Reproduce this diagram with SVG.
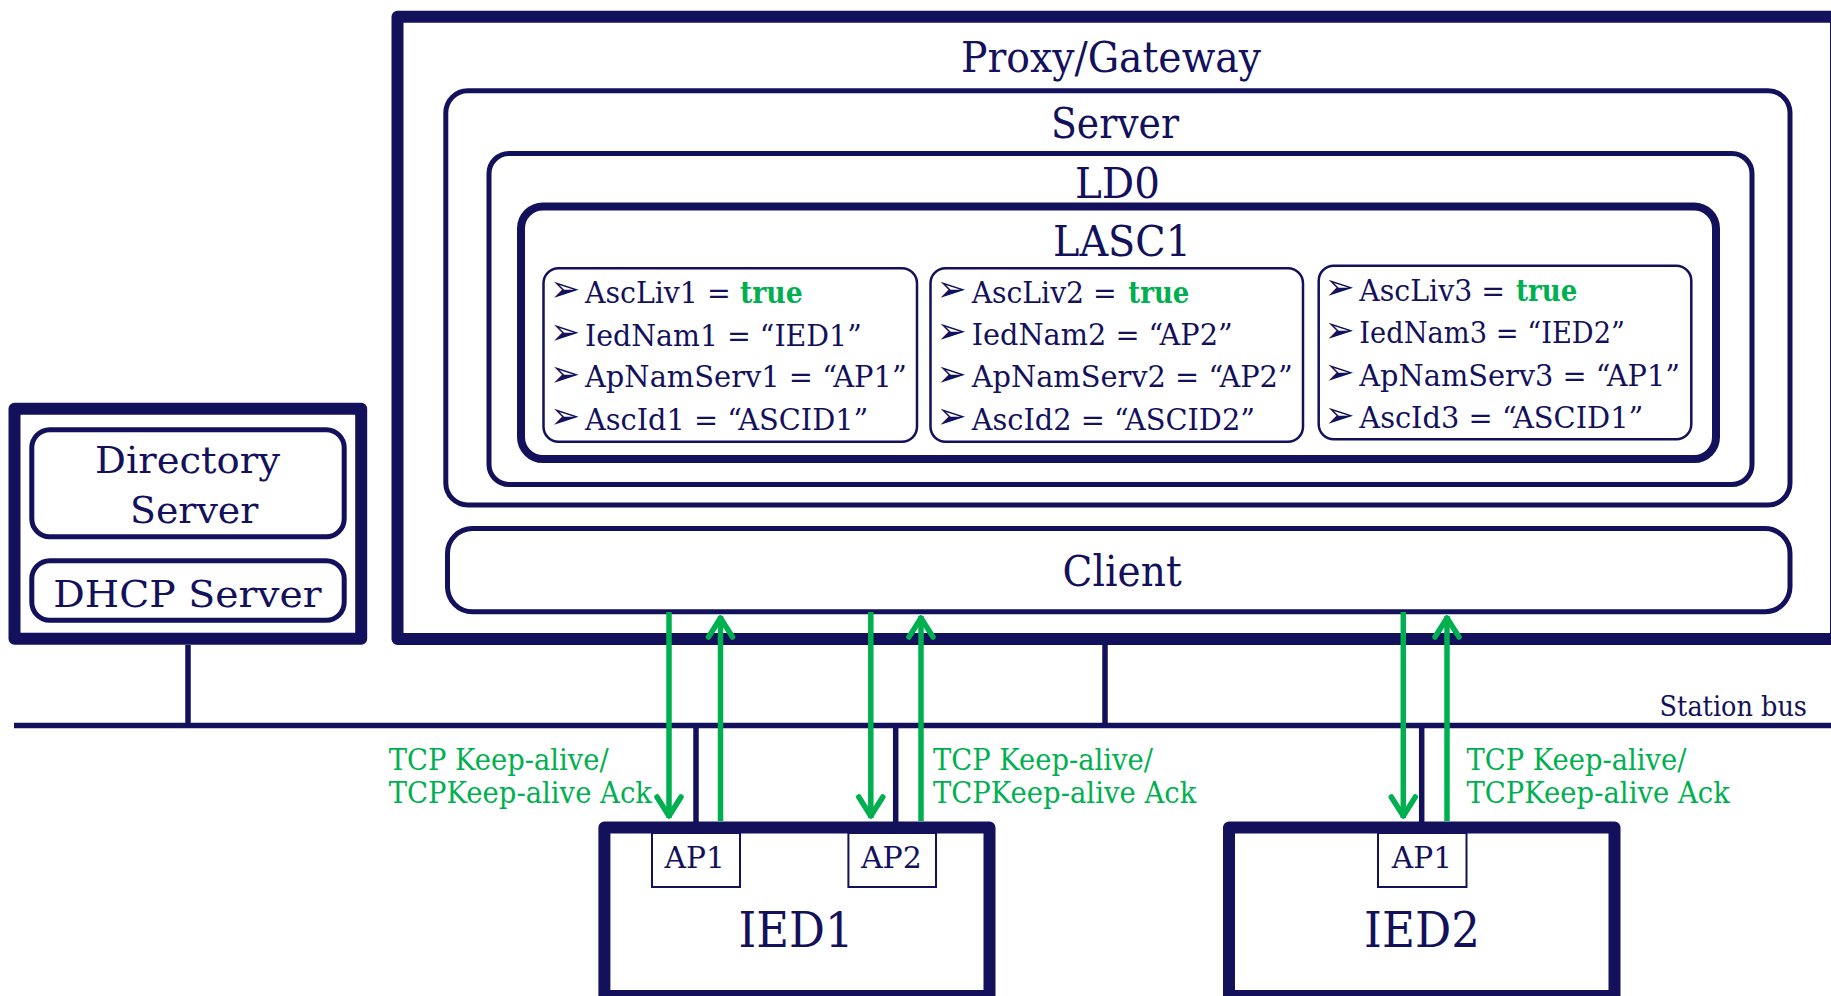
<svg xmlns="http://www.w3.org/2000/svg" width="1831" height="996" viewBox="0 0 1831 996">
<defs>
<style>
.n{fill:none;stroke:#13115B;stroke-linejoin:round}
.t{font-family:"DejaVu Serif","Liberation Serif",serif;fill:#13115B}
.gl{font-family:"DejaVu Serif","Liberation Serif",serif;fill:#00B050;font-size:29px}
.it{font-family:"DejaVu Serif","Liberation Serif",serif;fill:#13115B;font-size:29px}
.tr{font-family:"DejaVu Serif","Liberation Serif",serif;fill:#00B050;font-size:29px;font-weight:bold}
.b{font-family:"DejaVu Sans",sans-serif;fill:#13115B;font-size:36px}
.h{font-size:43px}
.cn{stroke:#13115B;stroke-width:5.5;fill:none}
.ga{stroke:#00B050;stroke-width:5.5;fill:none;marker-end:url(#ah)}
</style>
<marker id="ah" markerUnits="userSpaceOnUse" markerWidth="40" markerHeight="40" viewBox="-30 -20 40 40" refX="2" refY="0" orient="auto" overflow="visible">
<path d="M-19,-12 L0,0 L-19,12" fill="none" stroke="#00B050" stroke-width="5.5" stroke-linecap="round" stroke-linejoin="round"/>
</marker>
</defs>
<rect width="1831" height="996" fill="#fff"/>

<g id="proxy">
<rect class="n" x="397.5" y="16.7" width="1438.5" height="622.3" stroke-width="12"/>
<text class="t h" x="961" y="71.5" textLength="300" lengthAdjust="spacingAndGlyphs">Proxy/Gateway</text>
</g>
<g id="server">
<rect class="n" x="445.8" y="90.8" width="1344.2" height="414.2" rx="22" stroke-width="5"/>
<text class="t h" x="1051" y="138" textLength="128" lengthAdjust="spacingAndGlyphs">Server</text>
</g>
<g id="ld0">
<rect class="n" x="489" y="153.5" width="1263" height="331" rx="20" stroke-width="5"/>
<text class="t h" x="1075" y="198" textLength="85" lengthAdjust="spacingAndGlyphs">LD0</text>
</g>
<g id="lasc1">
<rect class="n" x="521" y="206.5" width="1195" height="252.5" rx="22" stroke-width="8"/>
<text class="t h" x="1053" y="255.5" textLength="138" lengthAdjust="spacingAndGlyphs">LASC1</text>
</g>
<g id="asc1">
<rect class="n" x="543.5" y="268.3" width="373.5" height="173.4" rx="15" stroke-width="2.5"/>
<text class="b" x="550" y="301">➢</text>
<text class="b" x="550" y="344">➢</text>
<text class="b" x="550" y="386">➢</text>
<text class="b" x="550" y="428">➢</text>
<text class="it" x="585" y="302.7" textLength="145.7" lengthAdjust="spacingAndGlyphs">AscLiv1 =</text>
<text class="tr" x="740" y="302.7" textLength="62.7" lengthAdjust="spacingAndGlyphs">true</text>
<text class="it" x="585" y="346" textLength="276.7" lengthAdjust="spacingAndGlyphs">IedNam1 = “IED1”</text>
<text class="it" x="585" y="387.3" textLength="321.7" lengthAdjust="spacingAndGlyphs">ApNamServ1 = “AP1”</text>
<text class="it" x="585" y="430" textLength="283.3" lengthAdjust="spacingAndGlyphs">AscId1 = “ASCID1”</text>
</g>
<g id="asc2">
<rect class="n" x="930.5" y="268.3" width="372.5" height="173.4" rx="15" stroke-width="2.5"/>
<text class="b" x="936.5" y="301">➢</text>
<text class="b" x="936.5" y="343">➢</text>
<text class="b" x="936.5" y="386">➢</text>
<text class="b" x="936.5" y="428">➢</text>
<text class="it" x="971.7" y="302.7" textLength="145" lengthAdjust="spacingAndGlyphs">AscLiv2 =</text>
<text class="tr" x="1128.3" y="302.7" textLength="61" lengthAdjust="spacingAndGlyphs">true</text>
<text class="it" x="971.7" y="345" textLength="261" lengthAdjust="spacingAndGlyphs">IedNam2 = “AP2”</text>
<text class="it" x="971.7" y="387.3" textLength="321" lengthAdjust="spacingAndGlyphs">ApNamServ2 = “AP2”</text>
<text class="it" x="971.7" y="430" textLength="283.3" lengthAdjust="spacingAndGlyphs">AscId2 = “ASCID2”</text>
</g>
<g id="asc3">
<rect class="n" x="1318.7" y="265.8" width="372.6" height="173.4" rx="15" stroke-width="2.5"/>
<text class="b" x="1324.5" y="299">➢</text>
<text class="b" x="1324.5" y="341.5">➢</text>
<text class="b" x="1324.5" y="384">➢</text>
<text class="b" x="1324.5" y="426.5">➢</text>
<text class="it" x="1359.3" y="300.7" textLength="145.7" lengthAdjust="spacingAndGlyphs">AscLiv3 =</text>
<text class="tr" x="1516" y="300.7" textLength="61.3" lengthAdjust="spacingAndGlyphs">true</text>
<text class="it" x="1359.3" y="343.3" textLength="265.7" lengthAdjust="spacingAndGlyphs">IedNam3 = “IED2”</text>
<text class="it" x="1359.3" y="386" textLength="320.7" lengthAdjust="spacingAndGlyphs">ApNamServ3 = “AP1”</text>
<text class="it" x="1359.3" y="428.3" textLength="284" lengthAdjust="spacingAndGlyphs">AscId3 = “ASCID1”</text>
</g>
<g id="client">
<rect class="n" x="447.5" y="528.5" width="1342.5" height="83.3" rx="25" stroke-width="5"/>
<text class="t h" x="1062.6" y="586" textLength="119" lengthAdjust="spacingAndGlyphs">Client</text>
</g>

<g id="directory-host">
<rect class="n" x="14.5" y="408.8" width="346.7" height="230" stroke-width="12"/>
</g>
<g id="directory-server">
<rect class="n" x="31.8" y="429.8" width="312.4" height="107" rx="18" stroke-width="5"/>
<text class="t" font-size="37" x="95" y="472.7" textLength="185" lengthAdjust="spacingAndGlyphs">Directory</text>
<text class="t" font-size="37" x="130" y="523.3" textLength="128.3" lengthAdjust="spacingAndGlyphs">Server</text>
</g>
<g id="dhcp-server">
<rect class="n" x="31.8" y="560.8" width="312.4" height="59.4" rx="18" stroke-width="5"/>
<text class="t" font-size="37" x="53.3" y="607.3" textLength="268.4" lengthAdjust="spacingAndGlyphs">DHCP Server</text>
</g>

<g id="ied1">
<rect class="n" x="604.4" y="827.5" width="385.1" height="168.5" stroke-width="12"/>
<text class="t" font-size="48" x="738.5" y="947.3" textLength="115" lengthAdjust="spacingAndGlyphs">IED1</text>
</g>
<g id="ied1-ap1">
<rect x="652" y="833" width="88" height="54" fill="#fff" stroke="#13115B" stroke-width="2"/>
<text class="t" font-size="30" x="664.6" y="868.3" textLength="60.2" lengthAdjust="spacingAndGlyphs">AP1</text>
</g>
<g id="ied1-ap2">
<rect x="848.4" y="833" width="87.6" height="54" fill="#fff" stroke="#13115B" stroke-width="2"/>
<text class="t" font-size="30" x="860.9" y="868.3" textLength="61" lengthAdjust="spacingAndGlyphs">AP2</text>
</g>
<g id="ied2">
<rect class="n" x="1229" y="827.5" width="385.5" height="168.5" stroke-width="12"/>
<text class="t" font-size="48" x="1364" y="947.3" textLength="116" lengthAdjust="spacingAndGlyphs">IED2</text>
</g>
<g id="ied2-ap1">
<rect x="1378" y="833" width="88.5" height="54" fill="#fff" stroke="#13115B" stroke-width="2"/>
<text class="t" font-size="30" x="1391.8" y="868.3" textLength="60.2" lengthAdjust="spacingAndGlyphs">AP1</text>
</g>

<g id="station-bus">
<line class="cn" x1="14" y1="725.5" x2="1831" y2="725.5"/>
<text class="t" font-size="28" x="1659.6" y="716" textLength="147.4" lengthAdjust="spacingAndGlyphs">Station bus</text>
</g>

<g id="connectors">
<line class="cn" x1="188" y1="645" x2="188" y2="725.5"/>
<line class="cn" x1="1105" y1="645" x2="1105" y2="725.5"/>
<line class="cn" x1="696" y1="725.5" x2="696" y2="822"/>
<line class="cn" x1="895.7" y1="725.5" x2="895.7" y2="822"/>
<line class="cn" x1="1421.7" y1="725.5" x2="1421.7" y2="822"/>
<line class="ga" x1="669" y1="612" x2="669" y2="818"/>
<line class="ga" x1="720.5" y1="821" x2="720.5" y2="616"/>
<line class="ga" x1="870.8" y1="612" x2="870.8" y2="818"/>
<line class="ga" x1="921" y1="821" x2="921" y2="616"/>
<line class="ga" x1="1403.3" y1="612" x2="1403.3" y2="818"/>
<line class="ga" x1="1447" y1="821" x2="1447" y2="616"/>
<text class="gl" x="388.7" y="770" textLength="220" lengthAdjust="spacingAndGlyphs">TCP Keep-alive/</text>
<text class="gl" x="388.7" y="803" textLength="263.3" lengthAdjust="spacingAndGlyphs">TCPKeep-alive Ack</text>
<text class="gl" x="933" y="770" textLength="220" lengthAdjust="spacingAndGlyphs">TCP Keep-alive/</text>
<text class="gl" x="933" y="803" textLength="263.3" lengthAdjust="spacingAndGlyphs">TCPKeep-alive Ack</text>
<text class="gl" x="1466.5" y="770" textLength="220" lengthAdjust="spacingAndGlyphs">TCP Keep-alive/</text>
<text class="gl" x="1466.5" y="803" textLength="263.3" lengthAdjust="spacingAndGlyphs">TCPKeep-alive Ack</text>
</g>
</svg>
